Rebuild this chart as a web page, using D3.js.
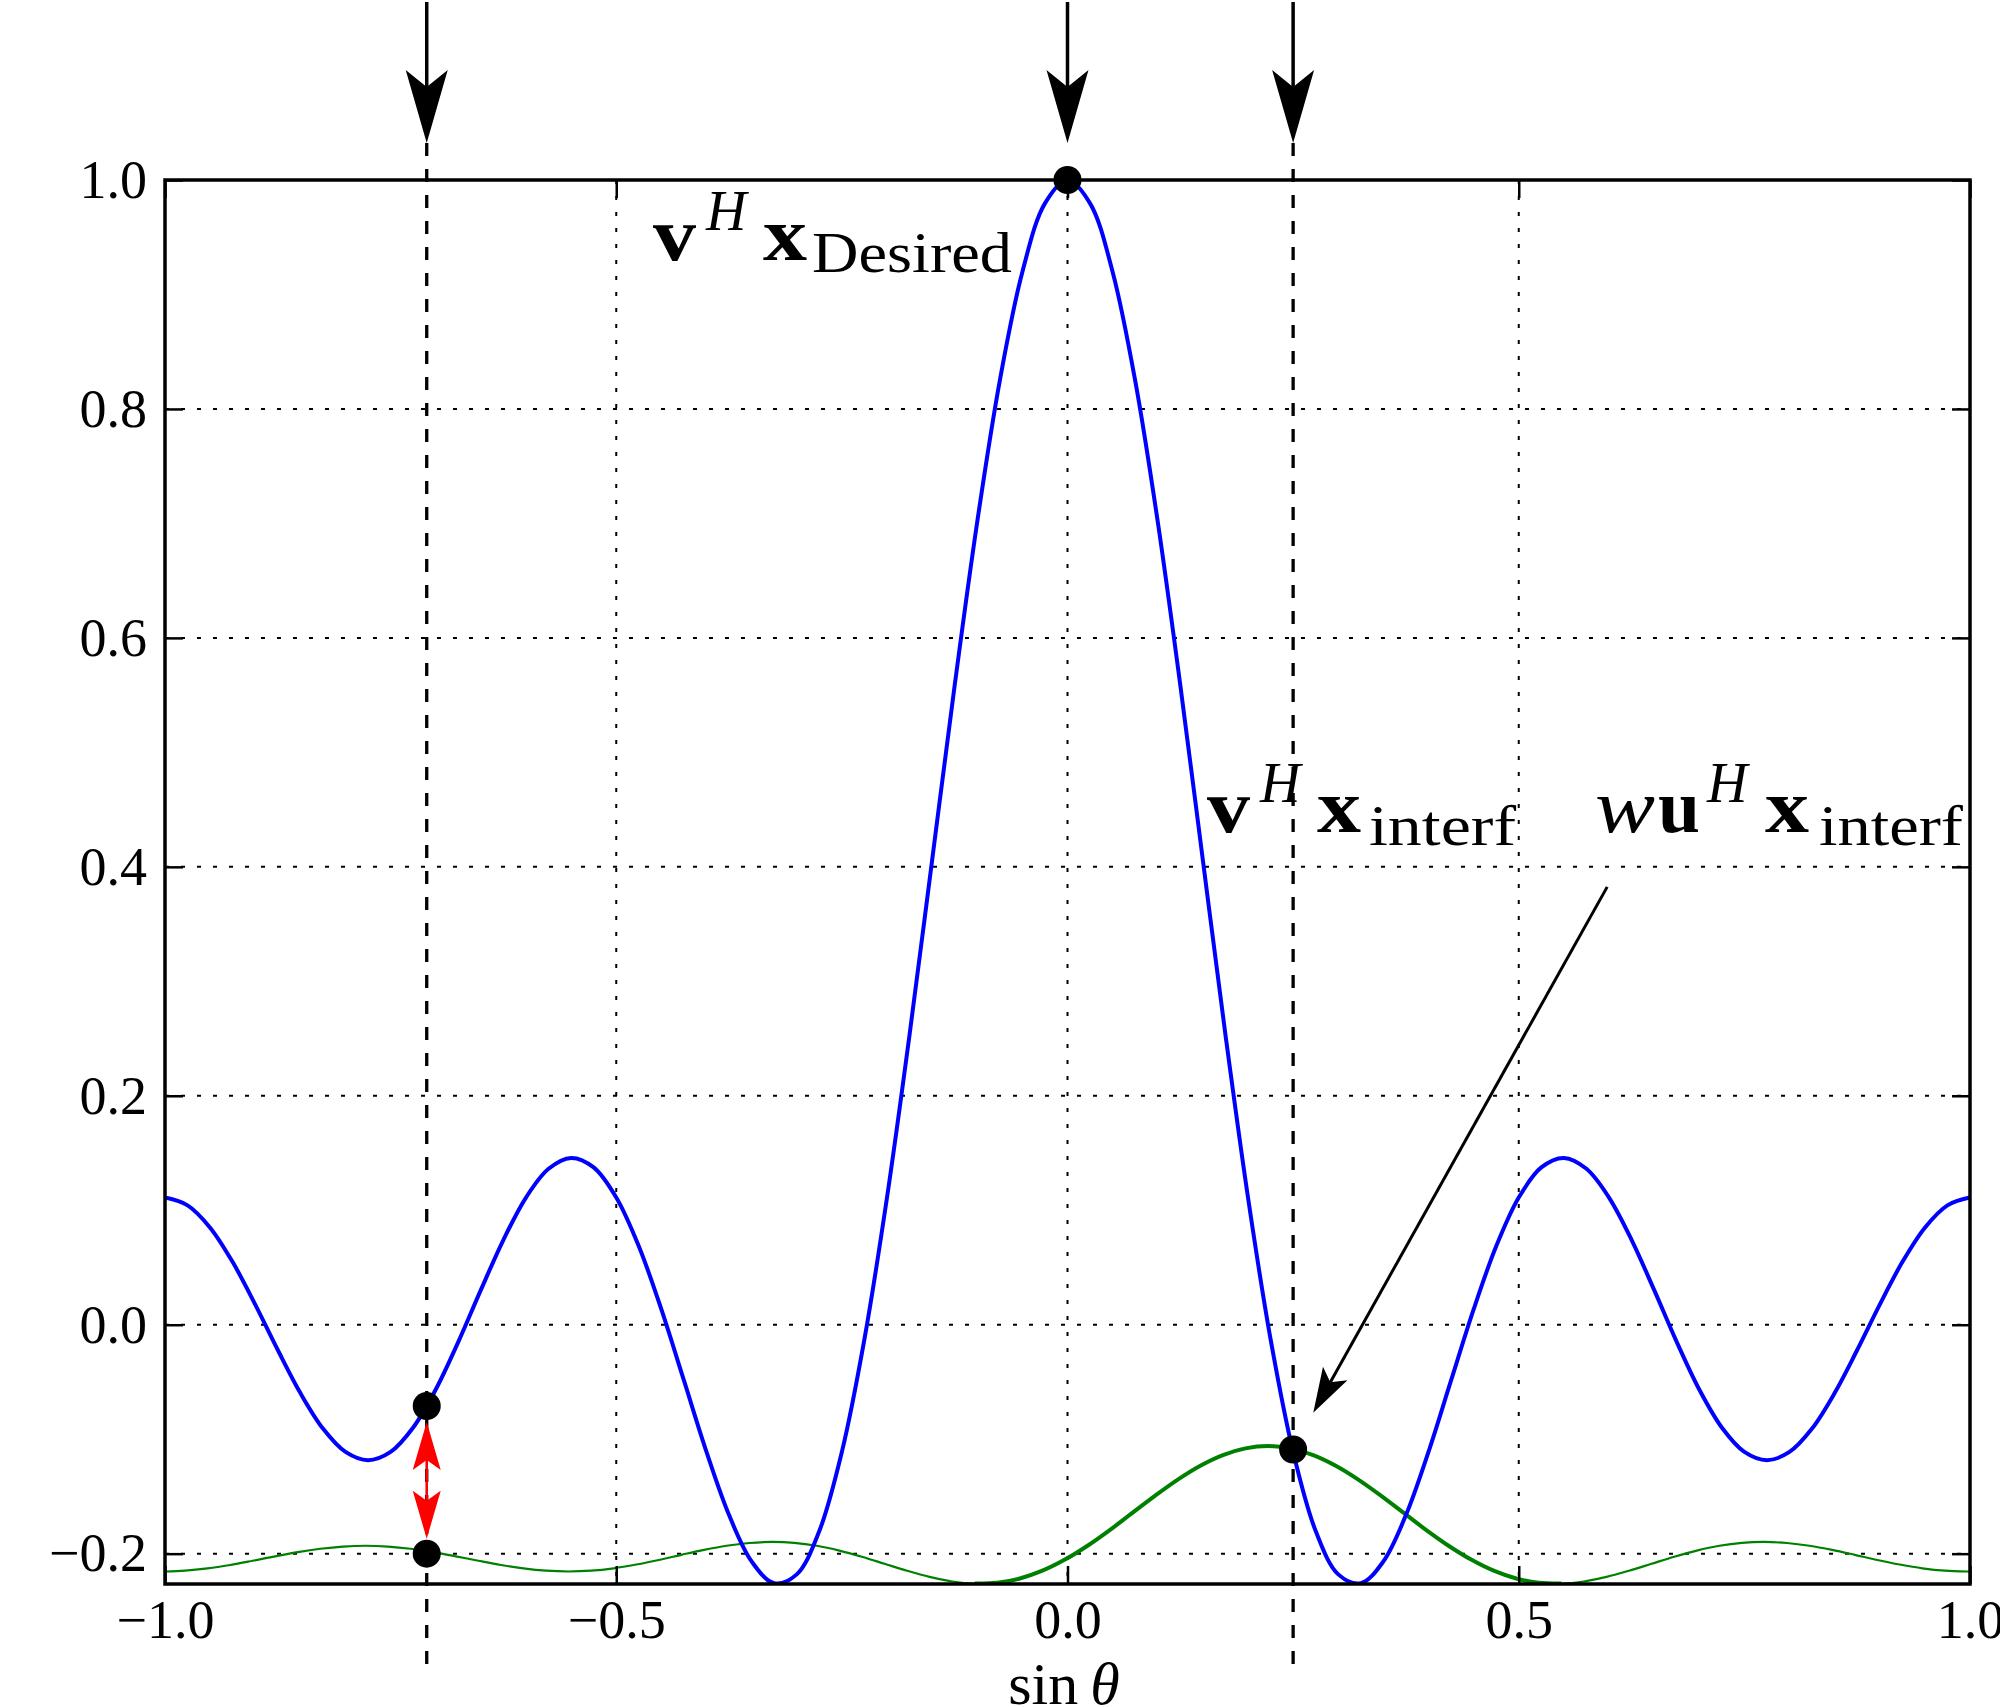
<!DOCTYPE html>
<html>
<head>
<meta charset="utf-8">
<script src="https://cdn.jsdelivr.net/npm/d3@7"></script>
<style>
html, body { margin: 0; padding: 0; background: #fff; }
svg { display: block; }
text { font-family: "Liberation Serif", "Times New Roman", serif; fill: #000; }
</style>
</head>
<body>
<svg id="chart" width="2000" height="1707"></svg>
<script>
// ---------------- data ----------------
const sinTheta = [-1.000,-0.975,-0.950,-0.925,-0.900,-0.875,-0.850,-0.825,-0.800,-0.775,
  -0.750,-0.725,-0.700,-0.675,-0.650,-0.625,-0.600,-0.575,-0.550,-0.525,
  -0.500,-0.475,-0.450,-0.425,-0.400,-0.375,-0.350,-0.325,-0.300,-0.275,
  -0.250,-0.225,-0.200,-0.175,-0.150,-0.125,-0.100,-0.075,-0.050,-0.025,
  0.000,0.025,0.050,0.075,0.100,0.125,0.150,0.175,0.200,0.225,
  0.250,0.275,0.300,0.325,0.350,0.375,0.400,0.425,0.450,0.475,
  0.500,0.525,0.550,0.575,0.600,0.625,0.650,0.675,0.700,0.725,
  0.750,0.775,0.800,0.825,0.850,0.875,0.900,0.925,0.950,0.975,1.000];

// v^H x  (blue)
const desiredResponse = [0.1111,0.1043,0.0848,0.0547,0.0176,-0.0221,-0.0597,-0.0907,-0.1111,-0.1183,
  -0.1111,-0.0898,-0.0566,-0.0150,0.0304,0.0742,0.1111,0.1362,0.1457,0.1374,
  0.1111,0.0685,0.0134,-0.0487,-0.1111,-0.1663,-0.2068,-0.2258,-0.2181,-0.1802,
  -0.1111,-0.0126,0.1111,0.2534,0.4058,0.5586,0.7015,0.8248,0.9197,0.9796,
  1.0000,0.9796,0.9197,0.8248,0.7015,0.5586,0.4058,0.2534,0.1111,-0.0126,
  -0.1111,-0.1802,-0.2181,-0.2258,-0.2068,-0.1663,-0.1111,-0.0487,0.0134,0.0685,
  0.1111,0.1374,0.1457,0.1362,0.1111,0.0742,0.0304,-0.0150,-0.0566,-0.0898,
  -0.1111,-0.1183,-0.1111,-0.0907,-0.0597,-0.0221,0.0176,0.0547,0.0848,0.1043,0.1111];

// w u^H x  (green)
const interfTheta = [-1.0000,-0.9778,-0.9528,-0.9278,-0.9028,-0.8778,-0.8528,-0.8278,-0.8028,-0.7778,
  -0.7528,-0.7278,-0.7028,-0.6778,-0.6528,-0.6278,-0.6028,-0.5778,-0.5528,-0.5278,
  -0.5028,-0.4778,-0.4528,-0.4278,-0.4028,-0.3778,-0.3528,-0.3278,-0.3028,-0.2778,
  -0.2528,-0.2278,-0.2028,-0.1778,-0.1528,-0.1278,-0.1028,-0.0778,-0.0528,-0.0278,
  -0.0028,0.0222,0.0472,0.0722,0.0972,0.1222,0.1472,0.1722,0.1972,0.2222,
  0.2472,0.2722,0.2972,0.3222,0.3472,0.3722,0.3972,0.4222,0.4472,0.4722,
  0.4972,0.5222,0.5472,0.5722,0.5972,0.6222,0.6472,0.6722,0.6972,0.7222,
  0.7472,0.7722,0.7972,0.8222,0.8472,0.8722,0.8972,0.9222,0.9472,0.9722,0.9972,1.0000];
const interfResponse = [-0.2156,-0.2149,-0.2129,-0.2099,-0.2062,-0.2023,-0.1986,-0.1957,-0.1938,-0.1931,
  -0.1938,-0.1957,-0.1986,-0.2023,-0.2062,-0.2099,-0.2129,-0.2149,-0.2156,-0.2149,
  -0.2128,-0.2095,-0.2055,-0.2010,-0.1967,-0.1931,-0.1907,-0.1897,-0.1905,-0.1931,
  -0.1973,-0.2027,-0.2088,-0.2149,-0.2203,-0.2243,-0.2261,-0.2254,-0.2217,-0.2149,
  -0.2052,-0.1931,-0.1792,-0.1642,-0.1493,-0.1353,-0.1232,-0.1139,-0.1080,-0.1060,
  -0.1080,-0.1139,-0.1232,-0.1353,-0.1493,-0.1642,-0.1792,-0.1931,-0.2052,-0.2149,
  -0.2217,-0.2254,-0.2261,-0.2243,-0.2203,-0.2149,-0.2088,-0.2027,-0.1973,-0.1931,
  -0.1905,-0.1897,-0.1907,-0.1931,-0.1967,-0.2010,-0.2055,-0.2095,-0.2128,-0.2149,-0.2156,-0.2156];

const markerX = [0.00, -0.71, -0.71, 0.25];
const markerY = [1.000, -0.071, -0.200, -0.109];
const interfererX = [-0.71, 0.25];
const directionX = [-0.71, 0.00, 0.25];
const gapArrow = { x: -0.71, top: -0.085, bottom: -0.187 };
const noteArrow = { x1: 0.598, y1: 0.3825, x2: 0.2723, y2: -0.0769 };
const xTicks = [-1.0, -0.5, 0.0, 0.5, 1.0];
const yTicks = [-0.2, 0.0, 0.2, 0.4, 0.6, 0.8, 1.0];
const yMin = -0.2265, yMax = 1.0;

// ---------------- drawing ----------------
const M = { left: 165, right: 1970, top: 180, bottom: 1584 };
const x = d3.scaleLinear().domain([-1, 1]).range([M.left, M.right]);
const y = d3.scaleLinear().domain([yMin, yMax]).range([M.bottom, M.top]);
const svg = d3.select("#chart");

svg.append("defs").append("clipPath").attr("id", "plotclip")
  .append("rect").attr("x", M.left).attr("y", M.top)
  .attr("width", M.right - M.left).attr("height", M.bottom - M.top);

// grid (dotted)
const grid = svg.append("g").attr("stroke", "#000").attr("stroke-width", 2).attr("stroke-dasharray", "4,12");
grid.selectAll("line.gx").data(xTicks.filter(d => d > -1 && d < 1)).join("line").attr("class", "gx")
  .attr("x1", d => x(d)).attr("x2", d => x(d)).attr("y1", M.top).attr("y2", M.bottom);
grid.selectAll("line.gy").data(yTicks.filter(d => d < 1)).join("line").attr("class", "gy")
  .attr("y1", d => y(d)).attr("y2", d => y(d)).attr("x1", M.left).attr("x2", M.right);

// interferer dashed lines
svg.append("g").selectAll("line").data(interfererX).join("line")
  .attr("x1", d => x(d)).attr("x2", d => x(d)).attr("y1", 143).attr("y2", 1677)
  .attr("stroke", "#000").attr("stroke-width", 3.3).attr("stroke-dasharray", "13,13");

// curves
const blueData = sinTheta.map((s, i) => [s, desiredResponse[i]]);
const greenData = interfTheta.map((s, i) => [s, interfResponse[i]]);
const line = d3.line().x(d => x(d[0])).y(d => y(d[1])).curve(d3.curveCatmullRom.alpha(0.5));
const curves = svg.append("g").attr("clip-path", "url(#plotclip)");
curves.append("path").datum(greenData).attr("d", line)
  .attr("fill", "none").attr("stroke", "#008000").attr("stroke-width", 2.2);
curves.append("path").datum(greenData.filter(d => d[0] > -0.11 && d[0] < 0.56)).attr("d", line)
  .attr("fill", "none").attr("stroke", "#008000").attr("stroke-width", 4);
curves.append("path").datum(blueData).attr("d", line)
  .attr("fill", "none").attr("stroke", "#0000ff").attr("stroke-width", 4);

// axes
const fmt = d3.format(".1f");
function styleAxis(g) {
  g.attr("font-family", null).attr("font-size", 54);
  g.selectAll(".domain").remove();
  g.selectAll(".tick line").attr("stroke", "#000").attr("stroke-width", 2.5);
  g.selectAll(".tick text").attr("fill", "#000");
}
svg.append("g").attr("transform", `translate(0,${M.bottom})`)
  .call(d3.axisBottom(x).tickValues(xTicks).tickFormat(fmt).tickSize(-18).tickPadding(16)).call(styleAxis);
svg.append("g").attr("transform", `translate(0,${M.top})`)
  .call(d3.axisTop(x).tickValues(xTicks).tickFormat("").tickSize(-18)).call(styleAxis);
svg.append("g").attr("transform", `translate(${M.left},0)`)
  .call(d3.axisLeft(y).tickValues(yTicks).tickFormat(fmt).tickSize(-18).tickPadding(18)).call(styleAxis);
svg.append("g").attr("transform", `translate(${M.right},0)`)
  .call(d3.axisRight(y).tickValues(yTicks).tickFormat("").tickSize(-18)).call(styleAxis);
svg.append("rect").attr("x", M.left).attr("y", M.top)
  .attr("width", M.right - M.left).attr("height", M.bottom - M.top)
  .attr("fill", "none").attr("stroke", "#000").attr("stroke-width", 3.5);

// markers
svg.append("g").selectAll("circle").data(markerX).join("circle")
  .attr("cx", d => x(d)).attr("cy", (d, i) => y(markerY[i])).attr("r", 14).attr("fill", "#000");

// arrows
function arrow(g, x1, y1, x2, y2, o) {
  const dx = x2 - x1, dy = y2 - y1, L = Math.hypot(dx, dy);
  const ux = dx / L, uy = dy / L, px = -uy, py = ux;
  const bx = x2 - ux * o.len, by = y2 - uy * o.len;
  const nx = x2 - ux * o.notch, ny = y2 - uy * o.notch;
  g.append("line").attr("x1", x1).attr("y1", y1).attr("x2", nx).attr("y2", ny)
    .attr("stroke", o.color).attr("stroke-width", o.w);
  g.append("path")
    .attr("d", `M${x2},${y2}L${bx + px * o.hw},${by + py * o.hw}L${nx},${ny}L${bx - px * o.hw},${by - py * o.hw}Z`)
    .attr("fill", o.color);
}
const ag = svg.append("g");
directionX.forEach(d => arrow(ag, x(d), 2, x(d), 143, { len: 73, notch: 56, hw: 21, w: 3.5, color: "#000" }));
const gm = (y(gapArrow.top) + y(gapArrow.bottom)) / 2;
arrow(ag, x(gapArrow.x), gm, x(gapArrow.x), y(gapArrow.top), { len: 48, notch: 38, hw: 14, w: 2.6, color: "#ff0000" });
arrow(ag, x(gapArrow.x), gm, x(gapArrow.x), y(gapArrow.bottom), { len: 48, notch: 38, hw: 14, w: 2.6, color: "#ff0000" });
arrow(ag, x(noteArrow.x1), y(noteArrow.y1), x(noteArrow.x2), y(noteArrow.y2), { len: 45, notch: 35, hw: 14, w: 3, color: "#000" });

// annotation text
function piece(px, py, str, size, opts = {}) {
  const t = svg.append("text").attr("x", px).attr("y", py).attr("font-size", size).text(str);
  if (opts.bold) t.attr("font-weight", "bold");
  if (opts.italic) t.attr("font-style", "italic");
  if (opts.len) t.attr("textLength", opts.len).attr("lengthAdjust", "spacingAndGlyphs");
  return t;
}
// v^H x_Desired
piece(653, 260, "v", 76, { bold: true, len: 43 });
piece(706, 230, "H", 56, { italic: true });
piece(763, 260, "x", 76, { bold: true, len: 44 });
piece(812, 272, "Desired", 58, { len: 200 });
// v^H x_interf
piece(1207, 832, "v", 76, { bold: true, len: 43 });
piece(1260, 802, "H", 56, { italic: true });
piece(1317, 832, "x", 76, { bold: true, len: 44 });
piece(1369, 845, "interf", 58, { len: 147 });
// w u^H x_interf
piece(1595, 832, "w", 76, { italic: true, len: 60 });
piece(1658, 832, "u", 76, { bold: true, len: 42 });
piece(1707, 802, "H", 56, { italic: true });
piece(1765, 832, "x", 76, { bold: true, len: 44 });
piece(1819, 845, "interf", 58, { len: 144 });

// x label
const xl = svg.append("text").attr("x", 1064).attr("y", 1704).attr("font-size", 60).attr("text-anchor", "middle");
xl.append("tspan").text("sin\u2009");
xl.append("tspan").attr("font-style", "italic").text("θ");
</script>
</body>
</html>
